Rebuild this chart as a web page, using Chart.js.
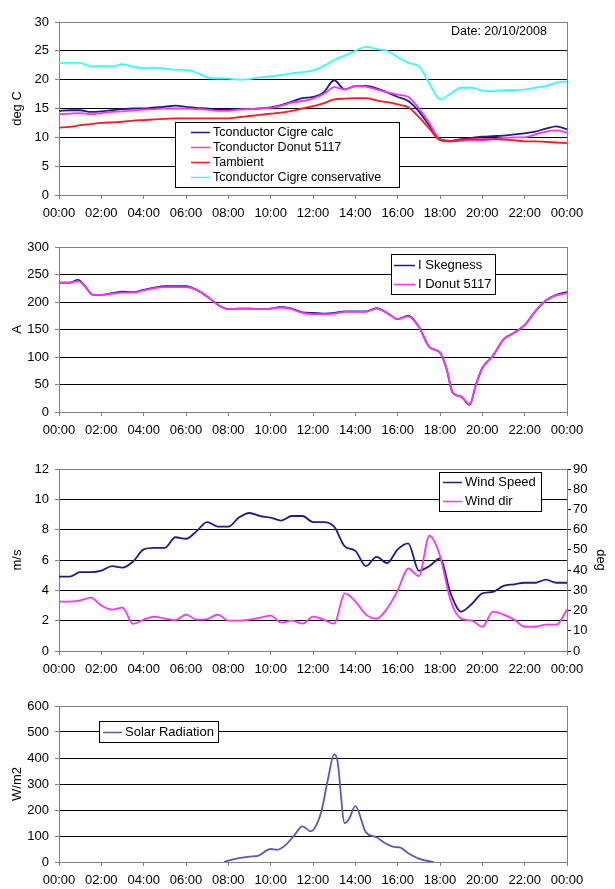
<!DOCTYPE html>
<html>
<head>
<meta charset="utf-8">
<script src="https://cdn.jsdelivr.net/npm/chart.js@4"></script>
<style>
  html, body { margin: 0; padding: 0; background: #fff; }
  body { width: 615px; height: 889px; position: relative; overflow: hidden; }
  canvas { position: absolute; left: 0; }
</style>
</head>
<body>
<canvas id="temp" width="615" height="225" style="top:0px"></canvas>
<canvas id="current" width="615" height="220" style="top:225px"></canvas>
<canvas id="wind" width="615" height="238" style="top:445px"></canvas>
<canvas id="solar" width="615" height="206" style="top:683px"></canvas>
<script>
// hours of the day, 0 = 00:00, 24 = next 00:00
const halfHours = [0, 0.5, 1, 1.5, 2, 2.5, 3, 3.5, 4, 4.5, 5, 5.5, 6, 6.5, 7, 7.5, 8, 8.5, 9, 9.5,
  10, 10.5, 11, 11.5, 12, 12.5, 13, 13.5, 14, 14.5, 15, 15.5, 16, 16.5, 17, 17.5, 18, 18.5, 19, 19.5,
  20, 20.5, 21, 21.5, 22, 22.5, 23, 23.5, 24];

// temperatures, deg C
const tCigreCalc = [14.6, 14.7, 14.7, 14.4, 14.5, 14.7, 14.9, 15.0, 15.0, 15.2, 15.3, 15.5, 15.3, 15.1, 15.0, 14.8, 14.8, 14.9, 14.9, 15.0,
  15.2, 15.6, 16.2, 16.8, 17.0, 17.8, 19.9, 18.3, 18.9, 18.9, 18.5, 17.8, 17.0, 16.3, 14.5, 12.0, 9.7, 9.4, 9.7, 9.9,
  10.1, 10.2, 10.3, 10.5, 10.7, 11.0, 11.5, 11.9, 11.4];
const tDonut = [14.0, 14.1, 14.2, 14.0, 14.2, 14.4, 14.5, 14.7, 14.8, 14.9, 15.0, 15.0, 15.0, 14.9, 14.8, 14.6, 14.6, 14.8, 14.9, 15.0,
  15.1, 15.5, 16.0, 16.3, 16.7, 17.5, 18.7, 18.3, 18.9, 18.8, 18.3, 17.8, 17.4, 17.0, 15.0, 12.5, 9.6, 9.3, 9.4, 9.5,
  9.5, 9.7, 9.9, 10.0, 10.0, 10.5, 11.0, 11.2, 10.8];
const tAmbient = [11.7, 11.8, 12.1, 12.3, 12.5, 12.6, 12.7, 12.9, 13.0, 13.1, 13.2, 13.3, 13.3, 13.3, 13.3, 13.3, 13.3, 13.5, 13.7, 13.9,
  14.1, 14.3, 14.6, 15.0, 15.4, 15.9, 16.6, 16.7, 16.8, 16.8, 16.4, 16.1, 15.7, 15.2, 13.5, 11.5, 9.5, 9.3, 9.6, 9.7,
  9.7, 9.7, 9.6, 9.5, 9.3, 9.3, 9.2, 9.1, 9.0];
const tCigreConservative = [22.9, 22.9, 22.9, 22.3, 22.4, 22.3, 22.7, 22.2, 22.0, 22.1, 21.9, 21.7, 21.7, 21.2, 20.4, 20.2, 20.2, 20.0, 20.1, 20.4,
  20.6, 20.8, 21.1, 21.3, 21.6, 22.4, 23.4, 24.2, 25.0, 25.7, 25.3, 25.0, 23.9, 22.9, 22.3, 19.3, 16.6, 17.6, 18.6, 18.6,
  18.1, 18.0, 18.2, 18.2, 18.3, 18.6, 18.9, 19.5, 19.7];

// line current, A
const currentHours = [0, 0.5, 0.9, 1.2, 1.6, 2, 2.5, 3, 3.5, 4, 4.5, 5, 5.5, 6, 6.5, 7, 7.5, 8, 8.5, 9,
  9.5, 10, 10.5, 11, 11.5, 12, 12.5, 13, 13.5, 14, 14.5, 15, 15.5, 16, 16.5, 17, 17.5, 18, 18.3, 18.6,
  19, 19.4, 19.7, 20, 20.5, 21, 21.5, 22, 22.5, 23, 23.5, 24];
const iSkegness = [235, 235, 240, 230, 213, 213, 216, 219, 218, 222, 226, 229, 229, 229, 222, 210, 195, 187, 188, 188,
  187, 188, 191, 188, 181, 180, 179, 180, 183, 183, 183, 189, 180, 169, 175, 155, 118, 108, 80, 35,
  28, 13, 50, 80, 102, 132, 144, 158, 183, 203, 213, 218];
const iDonut = [235, 235, 238, 230, 213, 213, 215, 217, 217, 221, 225, 227, 227, 227, 222, 210, 195, 187, 188, 188,
  187, 188, 190, 187, 180, 178, 178, 179, 182, 182, 182, 188, 180, 169, 174, 155, 118, 108, 80, 35,
  28, 14, 50, 80, 102, 132, 144, 158, 183, 203, 212, 216];

// wind, m/s and deg
const windSpeed = [4.9, 4.9, 5.2, 5.2, 5.3, 5.6, 5.5, 5.9, 6.7, 6.8, 6.8, 7.5, 7.4, 7.9, 8.5, 8.2, 8.2, 8.8, 9.1, 8.9,
  8.8, 8.6, 8.9, 8.9, 8.5, 8.5, 8.2, 6.9, 6.6, 5.6, 6.2, 5.8, 6.7, 7.1, 5.3, 5.6, 6.1, 3.8, 2.6, 3.1,
  3.8, 3.9, 4.3, 4.4, 4.5, 4.5, 4.7, 4.5, 4.5];
const windDir = [24.4, 24.4, 25, 26.4, 22.5, 20.5, 21.4, 13.4, 15.5, 17, 16, 15.3, 18, 15.5, 15.8, 18, 15, 15, 15.5, 16.5,
  17.5, 14, 15, 13.5, 17, 15.5, 13.5, 28.5, 24.5, 18, 16, 21, 30, 40.8, 37, 57, 47, 25, 16, 15,
  12, 19.5, 18, 15.5, 12, 12, 13, 13, 20.5];

// solar radiation, W/m2
const solarHours = [7.8, 8, 8.5, 9, 9.4, 10, 10.3, 10.7, 11.1, 11.5, 11.9, 12.1, 12.4, 12.7, 13, 13.15, 13.5, 13.7, 14, 14.5,
  15, 15.4, 15.9, 16.1, 16.5, 17, 17.4, 17.7];
const solarRadiation = [0, 5, 15, 21, 24, 50, 47, 65, 101, 137, 118, 133, 196, 316, 414, 392, 149, 165, 215, 114,
  95, 73, 57, 56, 34, 13, 4, 0];

const NAVY = '#1c1c8a';
const MAGENTA = '#ff33ff';

Chart.defaults.font.family = '"Liberation Sans", Arial, sans-serif';
Chart.defaults.font.size = 13;
Chart.defaults.color = '#000';
Chart.defaults.animation = false;
Chart.defaults.plugins.legend.display = false;
Chart.defaults.plugins.tooltip.enabled = false;

function pairs(xs, ys) {
  return xs.map((x, i) => ({ x: x, y: ys[i] }));
}

function line(label, xs, ys, color, order) {
  return {
    label: label,
    data: pairs(xs, ys),
    borderColor: color,
    borderWidth: 1.8,
    pointRadius: 0,
    cubicInterpolationMode: 'monotone',
    order: order
  };
}

// grey frame round the plot area, drawn over the grid, under the lines
const frame = {
  id: 'frame',
  beforeDatasetsDraw(chart) {
    const a = chart.chartArea, ctx = chart.ctx;
    ctx.save();
    ctx.strokeStyle = '#808080';
    ctx.lineWidth = 1;
    ctx.strokeRect(Math.round(a.left) + 0.5, Math.round(a.top) + 0.5, Math.round(a.right - a.left), Math.round(a.bottom - a.top));
    ctx.restore();
  }
};

// excel style boxed legend at a fixed spot (canvas coords) inside the plot
const boxLegend = {
  id: 'boxLegend',
  afterDraw(chart, args, o) {
    if (!o || o.x === undefined) return;
    const ctx = chart.ctx;
    ctx.save();
    ctx.fillStyle = '#fff';
    ctx.fillRect(o.x, o.y, o.w, o.h);
    ctx.strokeStyle = '#000';
    ctx.lineWidth = 1;
    ctx.strokeRect(o.x + 0.5, o.y + 0.5, o.w, o.h);
    ctx.font = o.fontSize + 'px "Liberation Sans", Arial, sans-serif';
    ctx.textBaseline = 'middle';
    chart.data.datasets.forEach((ds, i) => {
      const y = Math.round(o.y + o.first + i * o.row) + 0.5;
      ctx.strokeStyle = ds.borderColor;
      ctx.lineWidth = 1.5;
      ctx.beginPath();
      ctx.moveTo(o.x + o.lineFrom, y);
      ctx.lineTo(o.x + o.lineTo, y);
      ctx.stroke();
      ctx.fillStyle = '#000';
      ctx.fillText(ds.label, o.x + o.textX, y);
    });
    if (o.note) {
      ctx.font = '12.5px "Liberation Sans", Arial, sans-serif';
      ctx.fillText(o.note.text, o.note.x, o.note.y);
    }
    ctx.restore();
  }
};

function timeAxis(height) {
  return {
    type: 'linear',
    min: 0,
    max: 24,
    afterFit: s => { s.height = height; },
    ticks: {
      stepSize: 2,
      padding: 7,
      maxRotation: 0,
      autoSkip: false,
      callback: v => String(v % 24).padStart(2, '0') + ':00'
    },
    grid: { drawOnChartArea: false, tickLength: 4, color: '#808080' },
    border: { color: '#808080' }
  };
}

function valueAxis(min, max, step, title) {
  return {
    position: 'left',
    min: min,
    max: max,
    afterFit: s => { s.width = 59; },
    ticks: { stepSize: step, padding: 6 },
    grid: { color: '#000', tickColor: '#808080', tickLength: 4 },
    border: { color: '#808080' },
    title: { display: true, text: title, padding: { top: 10, bottom: 0 }, font: { size: 13 } }
  };
}

function makeChart(id, datasets, scales, padding, legend) {
  return new Chart(document.getElementById(id), {
    type: 'line',
    data: { datasets: datasets },
    options: {
      responsive: false,
      layout: { padding: padding },
      scales: scales,
      plugins: { boxLegend: legend }
    },
    plugins: [frame, boxLegend]
  });
}

makeChart('temp', [
  line('Tconductor Cigre calc', halfHours, tCigreCalc, NAVY, 3),
  line('Tconductor Donut 5117', halfHours, tDonut, MAGENTA, 2),
  line('Tambient', halfHours, tAmbient, '#ff1a1a', 1),
  line('Tconductor Cigre conservative', halfHours, tCigreConservative, '#33ffff', 0)
], { x: timeAxis(30), y: valueAxis(0, 30, 5, 'deg C') },
  { top: 22, right: 48, left: 0, bottom: 0 },
  { x: 175, y: 122, w: 224, h: 65, first: 9.5, row: 15.3, lineFrom: 16, lineTo: 35, textX: 38, fontSize: 12.5,
    note: { text: 'Date: 20/10/2008', x: 451, y: 32 } });

makeChart('current', [
  line('I Skegness', currentHours, iSkegness, NAVY, 1),
  line('I Donut 5117', currentHours, iDonut, MAGENTA, 0)
], { x: timeAxis(33), y: valueAxis(0, 300, 50, 'A') },
  { top: 22, right: 48, left: 0, bottom: 0 },
  { x: 391, y: 29, w: 104, h: 40, first: 11, row: 19, lineFrom: 3, lineTo: 24, textX: 27, fontSize: 13 });

const windScales = {
  x: timeAxis(32),
  y: valueAxis(0, 12, 2, 'm/s'),
  y1: {
    position: 'right',
    min: 0,
    max: 90,
    afterFit: s => { s.width = 48; },
    ticks: { stepSize: 10, padding: 2 },
    grid: { drawOnChartArea: false, tickLength: 4, color: '#000' },
    border: { color: '#808080' },
    title: { display: true, text: 'deg', padding: { top: 7, bottom: 0 }, font: { size: 13 } }
  }
};
const speedLine = line('Wind Speed', halfHours, windSpeed, NAVY, 1);
const dirLine = line('Wind dir', halfHours, windDir, MAGENTA, 0);
dirLine.yAxisID = 'y1';
makeChart('wind', [speedLine, dirLine], windScales,
  { top: 24, right: 0, left: 0, bottom: 0 },
  { x: 439, y: 27, w: 102, h: 39, first: 10, row: 19, lineFrom: 4, lineTo: 23, textX: 26, fontSize: 13 });

makeChart('solar', [
  line('Solar Radiation', solarHours, solarRadiation, '#5a5ab8', 0)
], { x: timeAxis(27), y: valueAxis(0, 600, 100, 'W/m2') },
  { top: 23, right: 48, left: 0, bottom: 0 },
  { x: 99, y: 38, w: 119, h: 21, first: 11, row: 19, lineFrom: 4, lineTo: 23, textX: 26, fontSize: 13 });
</script>
</body>
</html>
